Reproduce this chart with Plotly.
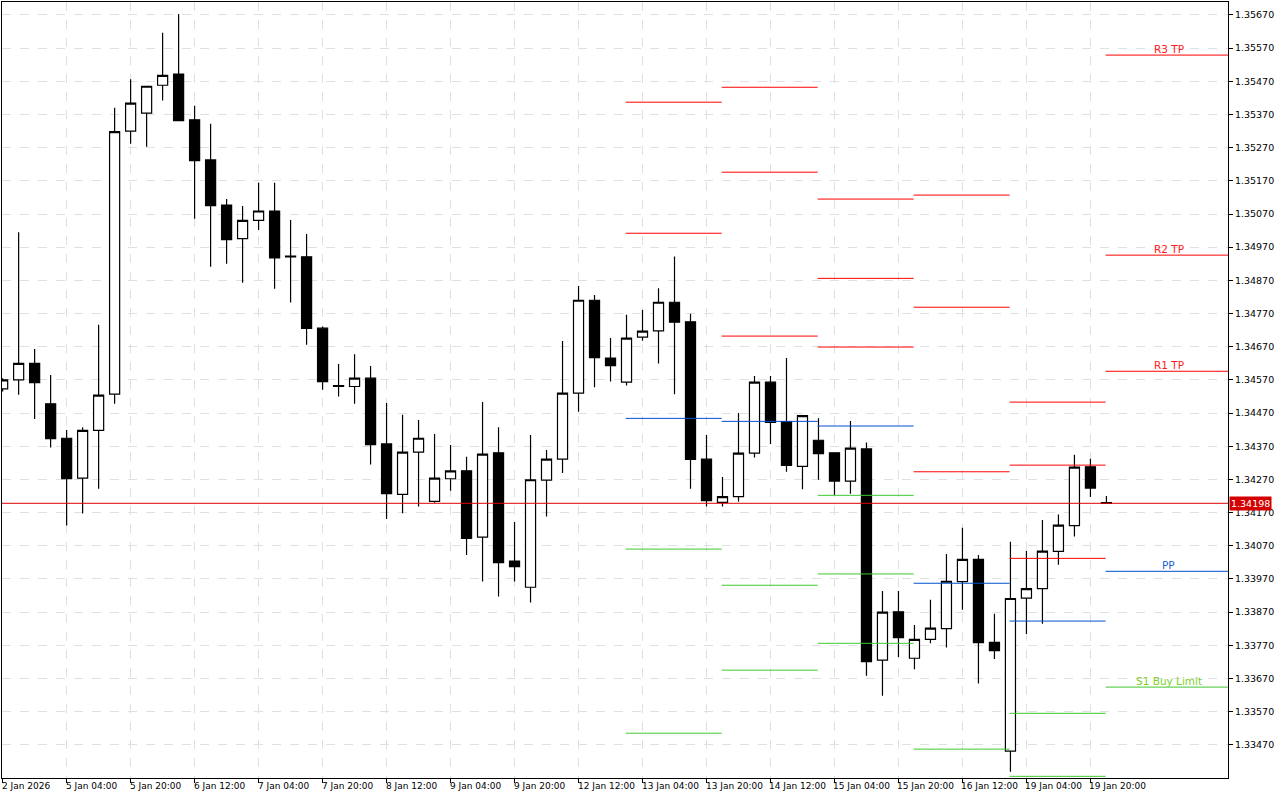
import plotly.graph_objects as go

# 4H candles, index 0 = 2 Jan 2026 12:00
opens = [1.34543, 1.34570, 1.34620, 1.34498, 1.34394, 1.34274, 1.34418, 1.34527, 1.35320, 1.35374,
         1.35458, 1.35492, 1.35354, 1.35233, 1.35097, 1.34996, 1.35051, 1.35079, 1.34943, 1.34941,
         1.34726, 1.34553, 1.34550, 1.34575, 1.34377, 1.34225, 1.34352, 1.34204, 1.34272, 1.34296,
         1.34096, 1.34350, 1.34024, 1.33945, 1.34268, 1.34331, 1.34530, 1.34810, 1.34636, 1.34563,
         1.34699, 1.34718, 1.34804, 1.34745, 1.34331, 1.34201, 1.34218, 1.34349, 1.34563, 1.34444,
         1.34309, 1.34388, 1.34350, 1.34265, 1.34362, 1.33725, 1.33871, 1.33731, 1.33788, 1.33820,
         1.33962, 1.34029, 1.33779, 1.33451, 1.33912, 1.33941, 1.34053, 1.34131, 1.34308, 1.34200]
highs = [1.34575, 1.35015, 1.34663, 1.34585, 1.34419, 1.34427, 1.34736, 1.35390, 1.35476, 1.35455,
         1.35616, 1.35673, 1.35396, 1.35342, 1.35115, 1.35094, 1.35164, 1.35164, 1.35052, 1.35010,
         1.34731, 1.34618, 1.34647, 1.34612, 1.34500, 1.34465, 1.34449, 1.34407, 1.34374, 1.34338,
         1.34503, 1.34427, 1.34142, 1.34404, 1.34359, 1.34687, 1.34853, 1.34826, 1.34696, 1.34766,
         1.34781, 1.34846, 1.34942, 1.34769, 1.34404, 1.34277, 1.34470, 1.34582, 1.34582, 1.34636,
         1.34462, 1.34454, 1.34352, 1.34446, 1.34381, 1.33934, 1.33934, 1.33831, 1.33907, 1.34045,
         1.34124, 1.34042, 1.33865, 1.34082, 1.34054, 1.34148, 1.34164, 1.34344, 1.34332, 1.34220]
lows = [1.34535, 1.34525, 1.34452, 1.34366, 1.34131, 1.34167, 1.34242, 1.34498, 1.35282, 1.35273,
        1.35412, 1.35351, 1.35056, 1.34911, 1.34920, 1.34863, 1.35022, 1.34845, 1.34803, 1.34676,
        1.34540, 1.34520, 1.34498, 1.34315, 1.34151, 1.34168, 1.34188, 1.34200, 1.34236, 1.34042,
        1.33962, 1.33917, 1.33962, 1.33899, 1.34158, 1.34289, 1.34474, 1.34548, 1.34565, 1.34553,
        1.34688, 1.34619, 1.34527, 1.34242, 1.34188, 1.34188, 1.34203, 1.34336, 1.34377, 1.34293,
        1.34240, 1.34269, 1.34223, 1.34227, 1.33678, 1.33618, 1.33735, 1.33698, 1.33776, 1.33763,
        1.33877, 1.33655, 1.33729, 1.33389, 1.33804, 1.33835, 1.34013, 1.34098, 1.34217, 1.34196]
closes = [1.34570, 1.34620, 1.34562, 1.34393, 1.34272, 1.34418, 1.34524, 1.35318, 1.35404, 1.35455,
          1.35488, 1.35351, 1.35231, 1.35095, 1.34993, 1.35051, 1.35079, 1.34938, 1.34941, 1.34725,
          1.34565, 1.34550, 1.34575, 1.34375, 1.34227, 1.34352, 1.34394, 1.34274, 1.34296, 1.34092,
          1.34346, 1.34019, 1.34007, 1.34269, 1.34331, 1.34530, 1.34810, 1.34637, 1.34613, 1.34696,
          1.34717, 1.34804, 1.34744, 1.34330, 1.34206, 1.34218, 1.34349, 1.34563, 1.34442, 1.34312,
          1.34462, 1.34348, 1.34265, 1.34364, 1.33721, 1.33870, 1.33793, 1.33788, 1.33822, 1.33963,
          1.34029, 1.33778, 1.33754, 1.33911, 1.33941, 1.34054, 1.34132, 1.34307, 1.34244, 1.34198]

time_labels = ["2 Jan 2026", "5 Jan 04:00", "5 Jan 20:00", "6 Jan 12:00", "7 Jan 04:00", "7 Jan 20:00",
               "8 Jan 12:00", "9 Jan 04:00", "9 Jan 20:00", "12 Jan 12:00", "13 Jan 04:00", "13 Jan 20:00",
               "14 Jan 12:00", "15 Jan 04:00", "15 Jan 20:00", "16 Jan 12:00", "19 Jan 04:00", "19 Jan 20:00"]
label_every = 4

price_ticks = [1.35670, 1.35570, 1.35470, 1.35370, 1.35270, 1.35170, 1.35070, 1.34970, 1.34870, 1.34770,
               1.34670, 1.34570, 1.34470, 1.34370, 1.34270, 1.34170, 1.34070, 1.33970, 1.33870, 1.33770,
               1.33670, 1.33570, 1.33470]
current_price = 1.34198

# daily pivot levels (start candle of each day)
day_starts = [39, 45, 51, 57, 63, 69]
red_levels = [[1.35407, 1.35012], [1.35452, 1.35196, 1.34702], [1.35115, 1.34876, 1.34669],
              [1.35127, 1.34789, 1.34293], [1.34503, 1.34313, 1.34032], [1.35549, 1.34946, 1.34596]]
blue_levels = [[1.34454], [1.34445], [1.34431], [1.33957], [1.33843], [1.33993]]
green_levels = [[1.34060, 1.33505], [1.33951, 1.33695], [1.34222, 1.33985, 1.33776],
                [1.33457], [1.33565, 1.33375], [1.33644]]
last_labels = [("R3 TP", 1.35549, "#ff1a1a"), ("R2 TP", 1.34946, "#ff1a1a"), ("R1 TP", 1.34596, "#ff1a1a"),
               ("PP", 1.33993, "#1a5fd8"), ("S1 Buy Limit", 1.33644, "#7ccf2a")]

x_min, x_max = -0.04, 76.6
y_min, y_max = 1.33370, 1.35709
FONT = "DejaVu Sans"

fig = go.Figure()


def level_trace(levels, color):
    xs, ys = [], []
    for start, lv in zip(day_starts, levels):
        end = start + 6 - 0.05 if start != day_starts[-1] else x_max
        for p in lv:
            xs += [start - 0.05, end, None]
            ys += [p, p, None]
    return go.Scatter(x=xs, y=ys, mode="lines", line=dict(color=color, width=1), hoverinfo="skip")


fig.add_trace(level_trace(red_levels, "#ff0000"))
fig.add_trace(level_trace(blue_levels, "#0050d0"))
fig.add_trace(level_trace(green_levels, "#40c830"))

fig.add_trace(go.Scatter(x=[x_min, x_max], y=[current_price, current_price], mode="lines",
                         line=dict(color="#e00000", width=1), hoverinfo="skip"))

fig.add_trace(go.Candlestick(
    x=list(range(len(opens))), open=opens, high=highs, low=lows, close=closes,
    increasing=dict(fillcolor="white", line=dict(color="black", width=1.2)),
    decreasing=dict(fillcolor="black", line=dict(color="black", width=1.2)),
    whiskerwidth=0))

tick_pos = [i * label_every for i in range(len(time_labels))]
for pos, lab in zip(tick_pos, time_labels):
    fig.add_annotation(x=pos, y=0, xref="x", yref="paper", yanchor="top", xanchor="left",
                       text=lab, showarrow=False, xshift=-3, yshift=-1,
                       font=dict(family=FONT, size=9, color="black"))

for text, p, col in last_labels:
    fig.add_annotation(x=72.9, y=p, xref="x", yref="y", yanchor="bottom", text=text, showarrow=False,
                       font=dict(family=FONT, size=10.5, color=col), yshift=-2)

fig.add_annotation(x=1, y=current_price, xref="paper", yref="y", xanchor="left", text="1.34198",
                   showarrow=False, bgcolor="#d40000", font=dict(family=FONT, size=9.5, color="white"),
                   borderpad=1, xshift=1)

fig.update_layout(
    width=1280, height=800, showlegend=False, plot_bgcolor="white", paper_bgcolor="white",
    margin=dict(l=2, r=52, t=2, b=22, autoexpand=False), boxgap=0.1,
    xaxis=dict(range=[x_min, x_max], rangeslider=dict(visible=False), tickmode="array", tickvals=tick_pos,
               showticklabels=False, ticks="outside", ticklen=4, tickcolor="black", showgrid=True,
               gridcolor="#e0e0e0", griddash="dash", showline=True, linecolor="black", mirror=True,
               zeroline=False, automargin=False),
    yaxis=dict(range=[y_min, y_max], side="right", tickmode="array", tickvals=price_ticks,
               ticktext=["%.5f" % p for p in price_ticks], ticks="outside", ticklen=4, tickcolor="black",
               showgrid=True, gridcolor="#e0e0e0", griddash="dash", showline=True, linecolor="black",
               mirror=True, zeroline=False, automargin=False,
               tickfont=dict(family=FONT, size=9.5, color="black")),
)

fig.write_html("out.html", config={"displayModeBar": False},
               post_script="document.body.style.margin='0';")
